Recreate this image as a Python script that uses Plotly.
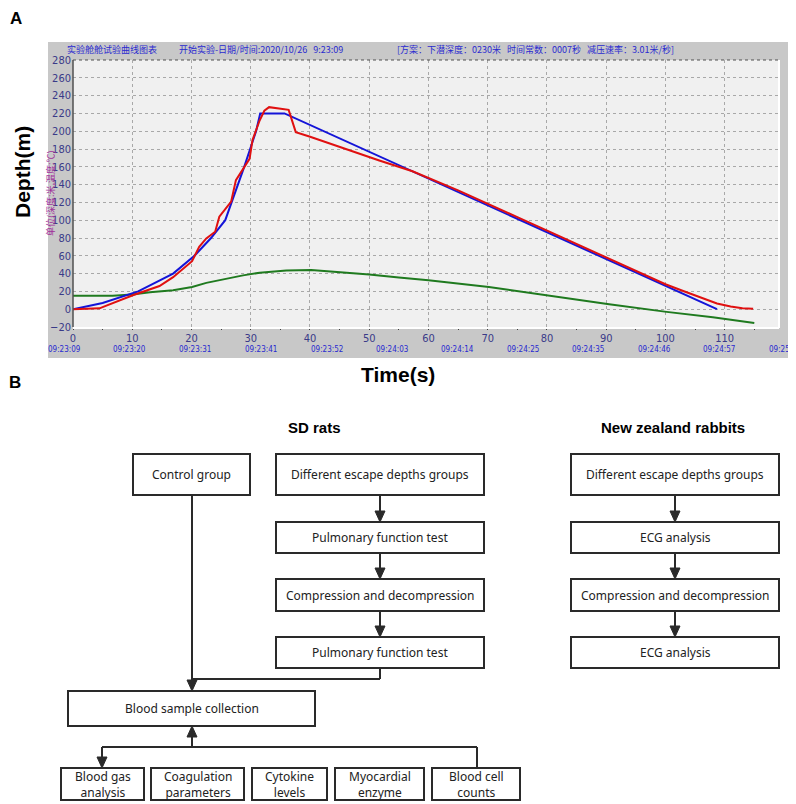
import plotly.graph_objects as go

# ---- panel A data ----
plan_t = [0, 5, 11, 16.9, 20.5, 23.3, 25.7, 26.8, 27.9, 28.9, 29.9, 30.9, 31.6, 35.7, 108.7]
plan_depth = [0, 7, 20, 40, 60, 80, 100, 120, 140, 160, 180, 200, 220, 220, 0]

real_t = [0, 4.5, 5.1, 10.1, 14.6, 16.9, 20.1, 21.3, 22.5, 24, 24.7, 25.6, 26.7, 27.5,
          28.9, 29.8, 30.3, 31.5, 32.3, 33.1, 36.4, 36.8, 37.6, 39.9, 45, 51.7, 57.3,
          65, 75, 85, 95, 100, 103, 105.6, 108.7, 111, 113, 114.8]
real_depth = [0, 1, 2.6, 15.7, 26, 36, 54, 70, 79.5, 87, 104, 112, 121, 145,
              160, 169, 190, 212, 223, 227, 224, 216, 199, 194, 182, 167, 155,
              133.5, 103.5, 73.5, 43.5, 28, 20.5, 14, 6.5, 3, 1.2, 0.5]

temp_t = [0, 6.7, 10, 13, 16.9, 20.1, 22.5, 25.8, 28.7, 31.5, 36, 40.2, 45.5, 50, 55,
          60, 70.2, 79.8, 90.5, 100.2, 108, 115]
temp_val = [15, 15, 16.5, 19, 21.4, 25, 29.6, 34.5, 38, 41, 43.5, 44, 41.6, 39, 35.6,
            32.5, 25, 15.7, 5.6, -3, -9, -15.4]

time_pos = [-1.5, 9.6, 20.6, 31.7, 42.8, 53.8, 64.9, 75.9, 87.0, 98.1, 109.1, 120.2]
time_text = ['09:23:09', '09:23:20', '09:23:31', '09:23:41', '09:23:52', '09:24:03',
             '09:24:14', '09:24:25', '09:24:35', '09:24:46', '09:24:57', '09:25:08']

header_parts = ['实验舱舱试验曲线图表', '开始实验-日期/时间:2020/10/26  9:23:09',
                '[方案：下潜深度：0230米  时间常数：0007秒  减压速率：3.01米/秒]']

# ---- panel B text ----
sd_steps = ['Different escape depths groups', 'Pulmonary function test',
            'Compression and decompression', 'Pulmonary function test']
rabbit_steps = ['Different escape depths groups', 'ECG analysis',
                'Compression and decompression', 'ECG analysis']
tests = ['Blood gas<br>analysis', 'Coagulation<br>parameters', 'Cytokine<br>levels',
         'Myocardial<br>enzyme', 'Blood cell<br>counts']

# page body has an 8px margin, so the figure is offset by 8px inside the window
OFF = 8
W, H = 796 - OFF, 804 - OFF
X_RANGE = [0, 119]
PLOT_L, PLOT_R = 73, 778


def fx(x):
    return (x - OFF) / W


def fy(y):
    return 1 - (y - OFF) / H


def data_to_paper_x(v):
    d0, d1 = fx(PLOT_L), fx(PLOT_R)
    return d0 + (v - X_RANGE[0]) / (X_RANGE[1] - X_RANGE[0]) * (d1 - d0)


fig = go.Figure()
fig.add_trace(go.Scatter(x=temp_t, y=temp_val, mode='lines',
                         line=dict(color='#1f7a1f', width=2), showlegend=False))
fig.add_trace(go.Scatter(x=plan_t, y=plan_depth, mode='lines',
                         line=dict(color='#1414d8', width=2), showlegend=False))
fig.add_trace(go.Scatter(x=real_t, y=real_depth, mode='lines',
                         line=dict(color='#e01010', width=2), showlegend=False))

narrow = 'Liberation Sans Narrow, DejaVu Sans Condensed, sans-serif'
tick_font = dict(family=narrow, size=11, color='#3a3a88')

fig.update_layout(
    width=W, height=H, autosize=False,
    margin=dict(l=0, r=0, t=0, b=0, pad=0),
    paper_bgcolor='white', plot_bgcolor='#f0f0f0',
    xaxis=dict(domain=[fx(PLOT_L), fx(PLOT_R)], range=X_RANGE, dtick=10, automargin=False,
               showgrid=True, gridcolor='#a8a8a8', griddash='dot', gridwidth=1,
               zeroline=False, ticks='outside', ticklen=2, tickcolor='#404040',
               minor=dict(dtick=5, ticks='outside', ticklen=2, tickcolor='#404040',
                          showgrid=False),
               tickfont=tick_font, ticklabelstandoff=-1, showline=False),
    yaxis=dict(domain=[fy(327), fy(60)], range=[-20, 280], dtick=20, automargin=False,
               showgrid=True, gridcolor='#a8a8a8', griddash='dot', gridwidth=1,
               zeroline=False, ticks='', tickfont=tick_font,
               ticklabelstandoff=1, showline=False),
)

shapes = []
# grey window panel behind the recorder chart, then the light plot face
shapes.append(dict(type='rect', xref='paper', yref='paper', layer='below',
                   x0=fx(48), x1=fx(788), y0=fy(358), y1=fy(42),
                   fillcolor='#c8c8c8', line=dict(width=0)))
shapes.append(dict(type='rect', xref='paper', yref='paper', layer='below',
                   x0=fx(PLOT_L), x1=fx(PLOT_R), y0=fy(327), y1=fy(60),
                   fillcolor='#f0f0f0', line=dict(width=0)))
# sunken plot frame
shapes.append(dict(type='line', xref='paper', yref='paper', x0=fx(73), x1=fx(73),
                   y0=fy(327), y1=fy(60), line=dict(color='#505050', width=1.5)))
shapes.append(dict(type='line', xref='paper', yref='paper', x0=fx(73), x1=fx(778),
                   y0=fy(60), y1=fy(60), line=dict(color='#505050', width=1, dash='dot')))
shapes.append(dict(type='line', xref='paper', yref='paper', x0=fx(73), x1=fx(779),
                   y0=fy(328), y1=fy(328), line=dict(color='#ffffff', width=2)))
shapes.append(dict(type='line', xref='paper', yref='paper', x0=fx(779), x1=fx(779),
                   y0=fy(328), y1=fy(60), line=dict(color='#ffffff', width=2)))

annotations = []
hx = [65, 177, 395]
for x, t in zip(hx, header_parts):
    annotations.append(dict(text=t.replace('  ', '&nbsp;&nbsp;&nbsp;'), x=fx(x), y=fy(50),
                            xref='paper', yref='paper',
                            xanchor='left', yanchor='middle', showarrow=False,
                            font=dict(family='Noto Sans CJK SC', size=9, color='#2a2ad0')))

annotations.append(dict(text='单位(深度:米,温度:℃)', x=fx(51), y=fy(193), xref='paper',
                        yref='paper', textangle=-90, showarrow=False,
                        xanchor='center', yanchor='middle',
                        font=dict(family='Noto Sans CJK SC', size=9, color='#a0309a')))

for p, t in zip(time_pos, time_text):
    annotations.append(dict(text=t, x=data_to_paper_x(p), y=fy(350), xref='paper',
                            yref='paper', showarrow=False, xanchor='center',
                            yanchor='middle',
                            font=dict(family=narrow, size=8, color='#2828d0')))

bold = dict(family='Liberation Sans, Arial, sans-serif', color='black')


def label(text, x, y, size, angle=0):
    annotations.append(dict(text='<b>' + text + '</b>', x=fx(x), y=fy(y), xref='paper',
                            yref='paper', xanchor='center', yanchor='middle',
                            textangle=angle, showarrow=False, font=dict(size=size, **bold)))


label('A', 16, 19, 17)
label('B', 15, 382, 17)
label('Depth(m)', 22, 172, 21, angle=-90)
label('Time(s)', 398, 374, 21)
label('SD rats', 314, 427, 15)
label('New zealand rabbits', 673, 427, 15)

box_font = dict(family='Noto Sans, Open Sans, sans-serif', size=12, color='#222222')
edge = '#2a2a2a'


def box(x0, y0, x1, y1, text, size=12):
    shapes.append(dict(type='rect', xref='paper', yref='paper', x0=fx(x0), x1=fx(x1),
                       y0=fy(y1), y1=fy(y0), line=dict(color=edge, width=2),
                       fillcolor='white'))
    annotations.append(dict(text=text, x=fx((x0 + x1) / 2), y=fy((y0 + y1) / 2),
                            xref='paper', yref='paper', showarrow=False,
                            xanchor='center', yanchor='middle',
                            font=dict(box_font, size=size)))


def seg(x0, y0, x1, y1):
    shapes.append(dict(type='line', xref='paper', yref='paper', x0=fx(x0), x1=fx(x1),
                       y0=fy(y0), y1=fy(y1), line=dict(color=edge, width=2)))


def head(x, y, up=False):
    b = y + 11 if up else y - 11
    path = 'M {} {} L {} {} L {} {} Z'.format(fx(x), fy(y), fx(x - 5), fy(b), fx(x + 5), fy(b))
    shapes.append(dict(type='path', xref='paper', yref='paper', path=path,
                       fillcolor=edge, line=dict(color=edge, width=1)))


rows = [(454, 495), (522, 553), (579, 611), (637, 668)]
box(133, 454, 250, 495, 'Control group')
for (y0, y1), lab in zip(rows, sd_steps):
    box(276, y0, 484, y1, lab)
for (y0, y1), lab in zip(rows, rabbit_steps):
    box(571, y0, 779, y1, lab)
for i in range(3):
    for cx in (380, 675):
        seg(cx, rows[i][1], cx, rows[i + 1][0] - 4)
        head(cx, rows[i + 1][0])

box(68, 691, 315, 726, 'Blood sample collection')
seg(192, 495, 192, 687)
head(192, 691)
seg(380, 668, 380, 679)
seg(380, 679, 192, 679)
seg(192, 747, 192, 730)
head(192, 726, up=True)
seg(102, 747, 477, 747)
seg(102, 747, 102, 764)
head(102, 768)
seg(477, 747, 477, 768)

bottom = [(61, 144), (151, 244), (252, 327), (335, 424), (432, 520)]
for (x0, x1), lab in zip(bottom, tests):
    box(x0, 768, x1, 800, lab, size=12)

fig.update_layout(shapes=shapes, annotations=annotations)
fig.write_html('out.html')
